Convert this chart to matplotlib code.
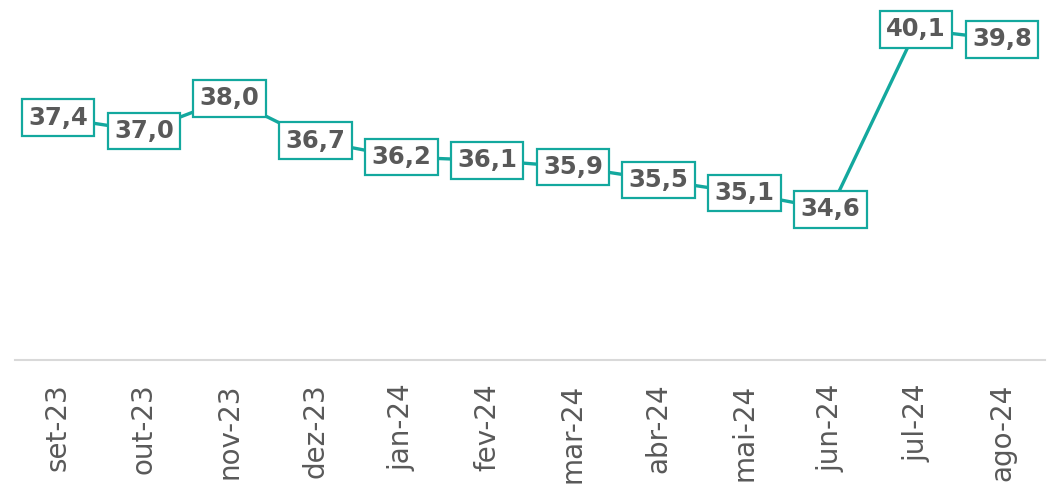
import matplotlib
matplotlib.use("Agg")
import matplotlib.pyplot as plt

# Dados
meses = ["set-23", "out-23", "nov-23", "dez-23", "jan-24", "fev-24",
         "mar-24", "abr-24", "mai-24", "jun-24", "jul-24", "ago-24"]
valores = [37.4, 37.0, 38.0, 36.7, 36.2, 36.1, 35.9, 35.5, 35.1, 34.6, 40.1, 39.8]

cor_linha = "#13A89E"
cor_texto = "#595959"

fig = plt.figure(figsize=(10.55, 4.87), dpi=100)
ax = fig.add_axes([15 / 1055, 127 / 487, 1030 / 1055, 360 / 487])

x = list(range(len(meses)))
ax.plot(x, valores, color=cor_linha, linewidth=2.4, zorder=2)

# Rótulos de dados em caixas
for xi, v in zip(x, valores):
    ax.text(xi, v, f"{v:.1f}".replace(".", ","), ha="center", va="center",
            fontsize=17.5, fontweight="bold", color=cor_texto, zorder=3,
            bbox=dict(boxstyle="square,pad=0.26", facecolor="white",
                      edgecolor=cor_linha, linewidth=1.6))

ax.set_xlim(-0.5, len(meses) - 0.5)
ax.set_ylim(30, 41)
ax.set_xticks(x)
ax.set_xticklabels(meses, rotation=90, fontsize=20, color=cor_texto)
ax.tick_params(axis="x", length=0, pad=17)
ax.set_yticks([])

for lado in ["top", "right", "left"]:
    ax.spines[lado].set_visible(False)
ax.spines["bottom"].set_color("#d9d9d9")
ax.spines["bottom"].set_linewidth(1.5)

fig.savefig("out.png", dpi=100)
